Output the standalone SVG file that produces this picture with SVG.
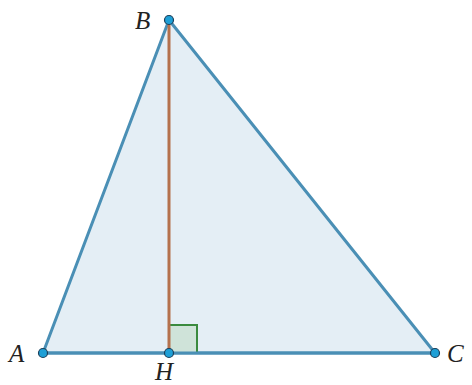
<svg xmlns="http://www.w3.org/2000/svg" width="472" height="385" viewBox="0 0 472 385">
<style>
.lbl{font-family:"Liberation Serif","DejaVu Serif",serif;font-style:italic;font-size:25px;fill:#222}
.pt{fill:#1e9fd6;stroke:#1b3f5a;stroke-width:1.2}
</style>
<rect width="472" height="385" fill="#ffffff"/>
<g id="triangle">
<polygon points="43,353 169,20 435,353" fill="#e4eef5" stroke="#4a8fb5" stroke-width="3" stroke-linejoin="round"/>
</g>
<g id="right-angle">
<rect x="169" y="325" width="28" height="28" fill="#cfe3d9" stroke="#3a8a3e" stroke-width="2"/>
</g>
<g id="connectors">
<line x1="169" y1="20" x2="169" y2="353" stroke="#b4714d" stroke-width="3"/>
<line x1="43" y1="353" x2="435" y2="353" stroke="#4a8fb5" stroke-width="3"/>
</g>
<g id="A"><circle class="pt" cx="43" cy="353" r="4.5"/><text class="lbl" x="9" y="362">A</text></g>
<g id="B"><circle class="pt" cx="169" cy="20" r="4.5"/><text class="lbl" x="135" y="29">B</text></g>
<g id="C"><circle class="pt" cx="435" cy="353" r="4.5"/><text class="lbl" x="447" y="362">C</text></g>
<g id="H"><circle class="pt" cx="169" cy="353" r="4.5"/><text class="lbl" x="155" y="380">H</text></g>
</svg>
